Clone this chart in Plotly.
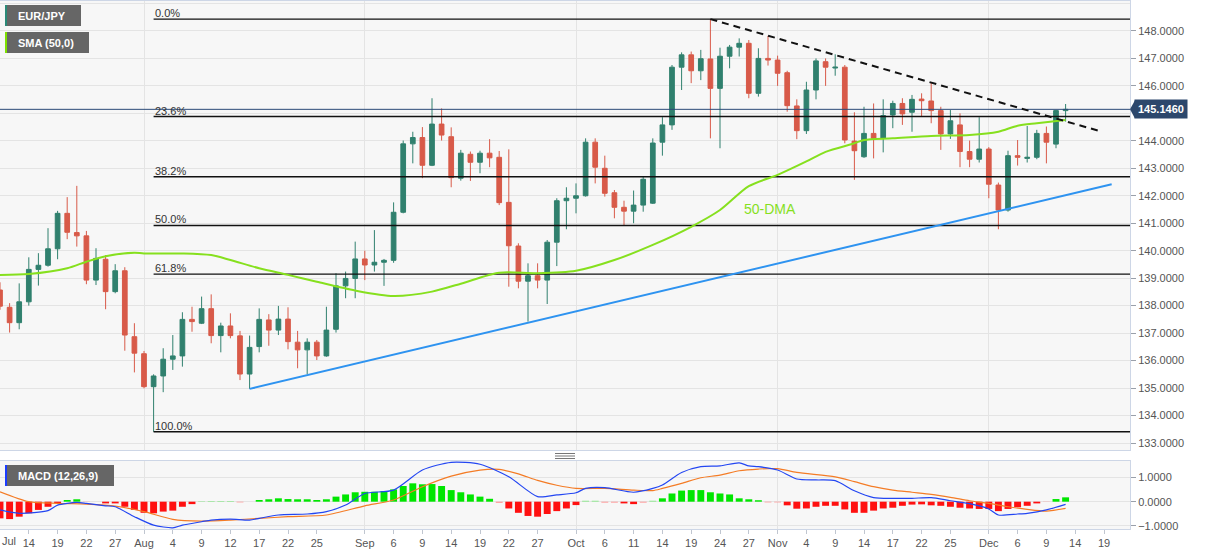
import plotly.graph_objects as go

# ---------------- data ----------------
# bar index 0 = 11 Jul 2022 ... 111 = 13 Dec 2022 (daily EUR/JPY)
opens = [138.57, 137.94, 137.38, 138.14, 139.32, 139.47, 140.07, 141.36, 140.66, 140.54,
         138.93, 139.69, 138.51, 139.27, 136.87, 136.25, 135.05, 135.44, 136.05, 136.17,
         137.50, 137.36, 137.89, 136.91, 137.26, 136.90, 135.51, 136.51, 137.48, 137.11,
         137.51, 136.67, 136.39, 136.67, 136.17, 137.14, 138.72, 138.99, 139.70, 139.48,
         139.58, 139.65, 141.40, 143.89, 144.12, 143.11, 144.61, 144.15, 142.64, 143.51,
         143.22, 143.55, 143.40, 141.76, 140.17, 138.89, 139.09, 138.93, 140.31, 141.82,
         141.91, 142.00, 143.95, 143.00, 142.11, 141.58, 141.44, 141.66, 141.73, 143.95,
         144.58, 146.68, 147.13, 146.55, 146.98, 145.91, 147.08, 147.41, 147.55, 145.73,
         147.00, 146.94, 146.48, 145.27, 144.37, 145.85, 146.88, 146.65, 146.68, 143.99,
         143.42, 144.27, 144.09, 144.94, 145.36, 145.04, 145.52, 145.45, 145.10, 144.25,
         144.58, 143.61, 143.33, 143.70, 142.39, 141.48, 143.46, 143.36, 143.40, 144.27,
         143.88, 145.10]
highs = [138.85, 138.09, 138.81, 139.76, 139.91, 140.82, 141.45, 141.95, 142.36, 140.72,
         140.09, 139.84, 139.51, 139.40, 137.36, 136.35, 135.50, 136.45, 136.93, 137.76,
         137.96, 138.33, 138.41, 137.38, 137.72, 137.08, 136.91, 137.90, 137.69, 137.99,
         137.94, 137.08, 136.81, 136.75, 137.96, 139.18, 139.24, 140.33, 140.00, 140.75,
         139.70, 141.76, 144.01, 144.33, 144.50, 145.55, 145.18, 144.49, 143.67, 143.61,
         143.64, 144.06, 143.63, 143.69, 140.27, 139.54, 139.54, 140.39, 141.91, 142.31,
         142.45, 144.09, 144.09, 143.46, 142.21, 141.82, 142.19, 142.70, 144.09, 144.86,
         146.76, 147.22, 147.25, 147.31, 148.43, 147.39, 147.49, 147.73, 147.67, 147.37,
         147.82, 147.10, 146.55, 145.51, 146.15, 147.00, 147.00, 147.15, 146.76, 145.04,
         145.24, 145.36, 145.51, 145.46, 145.55, 145.67, 145.73, 146.12, 145.24, 145.12,
         145.00, 144.01, 144.86, 143.77, 142.48, 143.64, 144.03, 144.54, 144.40, 144.52,
         145.12, 145.34]
lows = [137.85, 137.02, 137.14, 138.00, 138.73, 139.42, 139.69, 140.42, 140.15, 138.78,
        138.75, 137.87, 138.45, 136.36, 135.57, 134.99, 133.41, 134.85, 135.66, 135.78,
        137.05, 137.33, 136.63, 136.30, 136.81, 135.29, 134.97, 136.30, 136.54, 136.93,
        136.41, 135.72, 135.51, 136.02, 136.14, 137.02, 138.27, 138.27, 138.93, 139.24,
        138.72, 139.56, 141.36, 143.18, 142.64, 143.08, 144.01, 142.31, 142.55, 142.54,
        142.82, 143.04, 141.66, 138.69, 138.63, 137.42, 138.63, 138.06, 139.44, 140.78,
        141.36, 141.97, 142.45, 141.97, 141.18, 140.90, 141.00, 141.42, 141.70, 143.46,
        144.40, 145.85, 146.10, 146.21, 144.09, 143.73, 146.64, 147.07, 145.55, 145.61,
        146.74, 146.00, 145.06, 144.06, 144.25, 145.51, 146.00, 146.37, 143.91, 142.58,
        143.38, 143.36, 143.58, 144.46, 144.58, 144.33, 144.90, 144.64, 143.67, 144.07,
        143.04, 143.04, 143.21, 141.91, 140.78, 141.42, 143.10, 143.21, 143.33, 143.18,
        143.73, 144.70]
closes = [137.98, 137.38, 138.14, 139.32, 139.47, 140.07, 141.36, 140.67, 140.54, 138.93,
          139.72, 138.51, 139.27, 136.93, 136.27, 135.05, 135.44, 136.05, 136.17, 137.50,
          137.42, 137.89, 136.91, 137.26, 136.91, 135.51, 136.48, 137.50, 137.11, 137.51,
          136.69, 136.39, 136.67, 136.17, 137.11, 138.72, 138.99, 139.70, 139.48, 139.58,
          139.65, 141.40, 143.89, 144.12, 143.11, 144.61, 144.21, 142.66, 143.55, 143.22,
          143.55, 143.38, 141.75, 140.18, 138.89, 139.09, 138.93, 140.31, 141.82, 141.91,
          142.00, 143.95, 143.04, 142.09, 141.58, 141.44, 141.66, 142.60, 143.92, 144.58,
          146.68, 147.13, 146.55, 146.99, 145.91, 147.08, 147.41, 147.55, 145.73, 147.00,
          146.94, 146.46, 145.28, 144.37, 145.85, 146.91, 146.68, 146.68, 144.03, 143.64,
          144.27, 144.09, 144.92, 145.36, 144.98, 145.51, 145.46, 145.10, 144.25, 144.73,
          143.61, 143.33, 143.70, 142.42, 141.48, 143.46, 143.40, 143.40, 144.27, 143.95,
          145.10, 145.146]

# 50-day SMA, read at selected bars
sma_idx = [0, 3, 7, 9, 11, 14, 15, 19, 22, 24, 27, 30, 33, 37, 41, 45, 48, 52, 56, 60,
           64, 68, 72, 75, 78, 81, 84, 86, 89, 90, 93, 97, 101, 104, 106, 108, 111]
sma_val = [139.12, 139.15, 139.36, 139.60, 139.80, 139.93, 139.90, 139.90, 139.84, 139.66,
           139.36, 139.12, 138.87, 138.55, 138.35, 138.51, 138.80, 139.20, 139.18, 139.27,
           139.66, 140.21, 140.87, 141.48, 142.35, 142.76, 143.25, 143.60, 143.91, 144.03,
           144.09, 144.18, 144.21, 144.33, 144.55, 144.64, 144.76]

# trend lines (bar index, price)
support_x = [26, 115.8]
support_y = [134.97, 142.42]
resist_x = [74, 114.4]
resist_y = [148.43, 144.37]

# Fibonacci retracement
fib_ratios = [0.0, 0.236, 0.382, 0.5, 0.618, 1.0]
fib_labels = ["0.0%", "23.6%", "38.2%", "50.0%", "61.8%", "100.0%"]

# MACD (12,26,9)
hist = [-0.69, -0.72, -0.62, -0.48, -0.34, -0.21, -0.06, 0.07, 0.10, -0.01,
        0.00, -0.07, -0.07, -0.21, -0.34, -0.46, -0.48, -0.41, -0.37, -0.21,
        -0.10, 0.02, 0.03, 0.03, 0.03, -0.03, 0.00, 0.07, 0.10, 0.14,
        0.11, 0.10, 0.10, 0.07, 0.10, 0.21, 0.30, 0.39, 0.41, 0.41,
        0.44, 0.51, 0.65, 0.76, 0.72, 0.73, 0.65, 0.48, 0.39, 0.30,
        0.21, 0.12, -0.05, -0.28, -0.46, -0.59, -0.62, -0.51, -0.39, -0.28,
        -0.14, 0.04, 0.04, -0.04, -0.04, -0.07, -0.10, -0.04, 0.04, 0.14,
        0.34, 0.46, 0.48, 0.48, 0.39, 0.34, 0.30, 0.14, 0.10, 0.06,
        -0.03, -0.03, -0.15, -0.29, -0.28, -0.21, -0.17, -0.17, -0.32, -0.46,
        -0.46, -0.37, -0.28, -0.25, -0.17, -0.12, -0.11, -0.15, -0.17, -0.21,
        -0.25, -0.28, -0.30, -0.30, -0.39, -0.30, -0.23, -0.17, -0.07, -0.01,
        0.11, 0.18]
macd_idx = [0, 2, 5, 6, 8, 9, 11, 12, 14, 16, 18, 19, 21, 22, 24, 26, 27, 29, 32, 34,
            36, 38, 41, 44, 47, 50, 53, 56, 58, 60, 61, 63, 66, 68, 69, 71, 73, 75, 77, 78,
            79, 81, 83, 85, 87, 89, 91, 93, 95, 97, 99, 101, 103, 104, 106, 107, 109, 111]
macd_val = [-0.34, -0.48, -0.37, -0.14, -0.03, -0.07, -0.17, -0.21, -0.62, -0.97,
            -1.08, -0.97, -0.83, -0.76, -0.72, -0.76, -0.69, -0.55, -0.51, -0.41,
            -0.14, 0.34, 0.48, 1.31, 1.63, 1.55, 1.03, 0.21, 0.28, 0.37,
            0.55, 0.58, 0.39, 0.55, 0.69, 1.21, 1.45, 1.48, 1.61, 1.48,
            1.45, 1.31, 0.94, 0.90, 0.87, 0.45, 0.17, 0.14, 0.14, 0.17,
            0.04, -0.08, -0.30, -0.55, -0.51, -0.48, -0.34, -0.11]
sig_idx = [0, 3, 6, 9, 12, 15, 18, 21, 24, 27, 30, 34, 38, 41, 44, 47, 50, 52, 54, 56,
           58, 60, 63, 66, 68, 69, 71, 73, 75, 77, 79, 81, 83, 87, 89, 91, 93, 95, 97, 99,
           101, 103, 105, 107, 109, 111]
sig_val = [0.41, 0.00, -0.07, -0.10, -0.18, -0.41, -0.73, -0.80, -0.76, -0.69,
           -0.62, -0.55, -0.17, 0.07, 0.62, 1.06, 1.31, 1.34, 1.15, 0.88,
           0.68, 0.55, 0.55, 0.48, 0.46, 0.55, 0.76, 0.99, 1.10, 1.28,
           1.35, 1.37, 1.21, 1.03, 0.83, 0.62, 0.48, 0.39, 0.30, 0.18,
           0.04, -0.07, -0.21, -0.32, -0.39, -0.28]

# x-axis ticks
tick_idx = [3, 6, 9, 12, 15, 18, 21, 24, 27, 30, 33, 38, 41, 44, 47, 50, 53, 56, 60, 63,
            66, 69, 72, 75, 78, 81, 84, 87, 90, 93, 96, 99, 103, 106, 109, 112, 115]
tick_txt = ["14", "19", "22", "27", "Aug", "4", "9", "12", "17", "22", "25", "Sep", "6", "9",
            "14", "19", "22", "27", "Oct", "6", "11", "14", "19", "24", "27", "Nov", "4", "9",
            "14", "17", "22", "25", "Dec", "6", "9", "14", "19"]
first_label = "Jul"
month_idx = [15, 38, 60, 81, 103]

# ---------------- layout geometry ----------------
W, H = 1207, 555
ML, MR, MT, MB = 0, 77, 1, 26
PW, PH = W - ML - MR, H - MT - MB
BAR_PX = 9.6
xmax = PW / BAR_PX


def pxx(px):
    return (px - ML) / PW


def pxy(py):
    return (H - MB - py) / PH


FONT = "Liberation Sans, Arial, sans-serif"
GREEN = "#30806e"
RED = "#d85a49"
GRID = "#e4e4e4"
BORDER = "#cdd6e6"
LIME = "#86e01e"

x = list(range(len(closes)))
fig = go.Figure()

# Fibonacci lines
fib_hi, fib_lo = max(highs), min(lows)
fib_start = lows.index(fib_lo)
for r, lab in zip(fib_ratios, fib_labels):
    lvl = fib_hi - r * (fib_hi - fib_lo)
    fig.add_trace(go.Scatter(x=[fib_start, xmax], y=[lvl, lvl], mode="lines",
                             line=dict(color="#111111", width=1.4),
                             hoverinfo="skip", showlegend=False))
    fig.add_annotation(x=fib_start, y=lvl, xref="x", yref="y", text=lab,
                       xanchor="left", yanchor="bottom", showarrow=False, xshift=-1, yshift=-2,
                       font=dict(family=FONT, size=11, color="#333333"))

# last price line
last = closes[-1]
fig.add_trace(go.Scatter(x=[0, xmax], y=[last, last], mode="lines",
                         line=dict(color="#2b4a78", width=1), hoverinfo="skip", showlegend=False))

# candles
fig.add_trace(go.Candlestick(
    x=x, open=opens, high=highs, low=lows, close=closes,
    increasing=dict(line=dict(color=GREEN, width=1), fillcolor=GREEN),
    decreasing=dict(line=dict(color=RED, width=1), fillcolor=RED),
    whiskerwidth=0, showlegend=False, xaxis="x", yaxis="y"))

# SMA
fig.add_trace(go.Scatter(x=sma_idx, y=sma_val, mode="lines",
                         line=dict(color=LIME, width=2, shape="spline", smoothing=0.8),
                         hoverinfo="skip", showlegend=False))

# trend lines
fig.add_trace(go.Scatter(x=support_x, y=support_y, mode="lines",
                         line=dict(color="#2e93f0", width=2), showlegend=False))
fig.add_trace(go.Scatter(x=resist_x, y=resist_y, mode="lines",
                         line=dict(color="#111111", width=2, dash="7px,5px"), showlegend=False))

# MACD panel
hcol = []
for v in hist:
    if v >= 0:
        hcol.append("#00e600" if v > 0.05 else "#8fe88f")
    else:
        hcol.append("#ff1010" if v < -0.05 else "#ff9a9a")
fig.add_trace(go.Bar(x=x, y=hist, marker=dict(color=hcol, line=dict(width=0)), width=0.72,
                     xaxis="x2", yaxis="y2", showlegend=False))
fig.add_trace(go.Scatter(x=sig_idx, y=sig_val, mode="lines", xaxis="x2", yaxis="y2",
                         line=dict(color="#f47c26", width=1.2, shape="spline", smoothing=0.7),
                         showlegend=False))
fig.add_trace(go.Scatter(x=macd_idx, y=macd_val, mode="lines", xaxis="x2", yaxis="y2",
                         line=dict(color="#2346f2", width=1.2, shape="spline", smoothing=0.7),
                         showlegend=False))

main_bottom = pxy(450)
macd_top = pxy(461)

# y ticks: whole numbers, the one hidden behind the last-price tag is left out
ymin, ymax = 132.745, 149.09
ytick = [v for v in range(133, 149) if abs(v - last) > 0.5]

fig.update_layout(
    width=W, height=H, margin=dict(l=ML, r=MR, t=MT, b=MB),
    paper_bgcolor="white", plot_bgcolor="#f7f7f7",
    font=dict(family=FONT, size=11, color="#555555"),
    showlegend=False, bargap=0.28, hovermode=False,
    xaxis=dict(domain=[0, 1], anchor="y", range=[0, xmax], tickmode="array", tickvals=month_idx,
               showticklabels=False, ticks="", showgrid=True, gridcolor=GRID, zeroline=False,
               showline=True, mirror=True, linecolor=BORDER, rangeslider=dict(visible=False)),
    yaxis=dict(domain=[main_bottom, 1], anchor="x", range=[ymin, ymax], side="right",
               tickmode="array", tickvals=ytick, tickformat=".4f", ticks="outside", ticklen=5,
               tickcolor="#9aa0aa", showgrid=True, gridcolor=GRID, zeroline=False, showline=True,
               mirror=True, linecolor=BORDER, tickfont=dict(size=11, color="#555555"),
               minor=dict(dtick=1, tick0=133, showgrid=True, gridcolor=GRID, ticks="")),
    xaxis2=dict(domain=[0, 1], anchor="y2", range=[0, xmax], tickmode="array", tickvals=tick_idx,
                ticktext=tick_txt, ticks="outside", ticklen=4, tickcolor="#c0c6d0", showgrid=False,
                minor=dict(tickmode="array", tickvals=month_idx, showgrid=True, gridcolor=GRID, ticks=""),
                zeroline=False, showline=True, mirror=True, linecolor=BORDER,
                tickfont=dict(size=11, color="#555555")),
    yaxis2=dict(domain=[0, macd_top], anchor="x2", range=[-1.13, 1.684], side="right",
                tickmode="array", tickvals=[-1, 0, 1], tickformat=".4f", ticks="outside", ticklen=5,
                tickcolor="#9aa0aa", showgrid=True, gridcolor=GRID, zeroline=False, showline=True,
                mirror=True, linecolor=BORDER, tickfont=dict(size=11, color="#555555")),
)

# first x label (month at left edge)
fig.add_annotation(x=0, y=pxy(541), xref="x2", yref="paper", text=first_label, showarrow=False,
                   xanchor="left", yanchor="middle", font=dict(size=11, color="#555555"))

# 50-DMA label
fig.add_annotation(x=80.2, y=141.52, xref="x", yref="y", text="50-DMA", showarrow=False,
                   font=dict(family=FONT, size=14, color=LIME))

# legend boxes
shapes = []


def box(x0, x1, y0, y1, stripe, label):
    shapes.append(dict(type="rect", xref="paper", yref="paper", x0=pxx(x0), x1=pxx(x1),
                       y0=pxy(y1), y1=pxy(y0), fillcolor="#666666", line=dict(width=0), layer="above"))
    shapes.append(dict(type="rect", xref="paper", yref="paper", x0=pxx(x0), x1=pxx(x0 + 2),
                       y0=pxy(y1), y1=pxy(y0), fillcolor=stripe, line=dict(width=0), layer="above"))
    fig.add_annotation(x=pxx(16), y=pxy((y0 + y1) / 2), xref="paper", yref="paper",
                       text="<b>%s</b>" % label, showarrow=False, xanchor="left", yanchor="middle",
                       font=dict(family=FONT, size=11, color="white"))


box(5, 81, 5, 26, "#2a8a78", "EUR/JPY")
box(5, 89, 32, 53, "#7ee000", "SMA (50,0)")
box(5, 114, 465, 486, "#1b3cff", "MACD (12,26,9)")

# drag handle between panels
for yy in (453.5, 456, 458.5):
    shapes.append(dict(type="line", xref="paper", yref="paper", x0=pxx(555), x1=pxx(575),
                       y0=pxy(yy), y1=pxy(yy), line=dict(color="#777777", width=1)))

# last-price tag
tag_col = "#2c476c"
shapes.append(dict(type="path", xref="paper", yref="y",
                   path="M %f,%f L %f,%f L %f,%f Z" % (pxx(1130), last, pxx(1135), last + 0.33,
                                                        pxx(1135), last - 0.33),
                   fillcolor=tag_col, line=dict(width=0), layer="above"))
fig.add_annotation(x=pxx(1134), y=last, xref="paper", yref="y", text="<b>%.4f</b>" % last,
                   showarrow=False, xanchor="left", yanchor="middle", bgcolor=tag_col, borderpad=3,
                   font=dict(family=FONT, size=11, color="white"))

fig.update_layout(shapes=shapes)
fig.write_html("out.html", config={"displayModeBar": False, "staticPlot": True},
               post_script="document.body.style.margin='0';")
